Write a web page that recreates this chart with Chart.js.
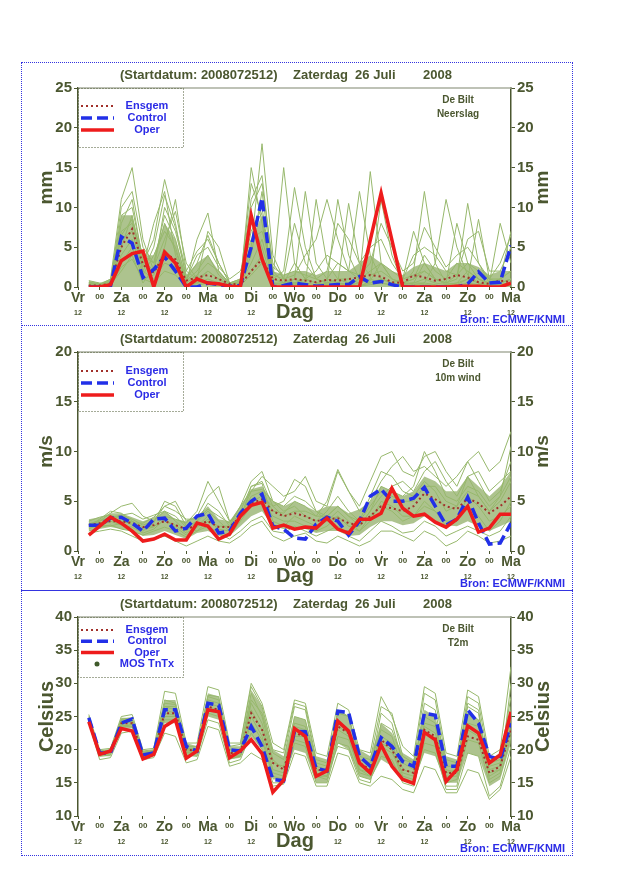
<!DOCTYPE html>
<html>
<head>
<meta charset="utf-8">
<script src="https://cdn.jsdelivr.net/npm/chart.js@4.4.1/dist/chart.umd.min.js"></script>
<style>
  body { margin: 0; background: #fff; width: 640px; height: 880px; position: relative; overflow: hidden; }
  canvas { position: absolute; left: 21px; }
  .frame { position: absolute; left: 21px; width: 552px; border: 1px dotted #3434e0; box-sizing: border-box; pointer-events: none; }
  .sep { position: absolute; left: 21px; width: 552px; height: 0; border-top: 1px dotted #3434e0; }
</style>
</head>
<body>
<canvas id="precip" width="552" height="264" style="top:62px"></canvas>
<canvas id="wind" width="552" height="264" style="top:326px"></canvas>
<canvas id="temp" width="552" height="264" style="top:591px"></canvas>
<div class="frame" style="top:62px;height:794px"></div>
<div class="sep" style="top:325px"></div>
<div class="sep" style="top:590px;border-top-style:solid"></div>
<script>
// forecast hours after the start (Vr 12 UTC)
const hours = [6,12,18,24,30,36,42,48,54,60,66,72,78,84,90,96,102,108,114,120,
               126,132,138,144,150,156,162,168,174,180,186,192,198,204,210,216,222,228,234,240];
const tickHours = [0,12,24,36,48,60,72,84,96,108,120,132,144,156,168,180,192,204,216,228,240];
const dayNames = ["Vr","Za","Zo","Ma","Di","Wo","Do","Vr","Za","Zo","Ma"];

// ---- Neerslag (mm) ----
const precipOper    = [0,0,0.3,3.3,4.2,4.5,0,4.4,3.0,0,1.0,0.5,0.4,0.1,0,9.0,3.5,0,0,0,0,0,0,0,0,0,5.9,11.8,5.9,0,0,0,0,0,0.1,0.1,0.1,0,0,0.5];
const precipControl = [0,0,0.1,6.3,5.5,1.2,2.2,3.8,2.0,0,0,0.5,0.3,0.1,0.2,5.0,11.2,0,0.2,0.5,0.3,0.1,0.2,0.3,0.3,1.3,0.5,0.7,0.3,0,0,0,0,0,0,0.4,1.9,0.5,0.6,5.2];
const precipEnsgem  = [0.2,0.2,0.4,5.0,7.3,2.8,1.8,4.2,3.5,0.8,1.2,1.5,1.0,0.4,0.3,2.0,3.5,1.0,0.8,1.0,0.8,0.6,0.9,0.8,1.0,1.2,1.5,1.3,0.6,0.5,1.5,1.2,0.8,1.0,1.5,1.2,0.6,0.4,0.8,0.6];
const precipCoreLo  = [0,0,0,0,0,0,0,0,0,0,0,0,0,0,0,0,0,0,0,0,0,0,0,0,0,0,0,0,0,0,0,0,0,0,0,0,0,0,0,0];
const precipCoreHi  = [0.8,0.5,1.0,9.0,9.0,4.0,4.0,8.0,6.0,1.5,3.0,4.0,2.0,0.5,1.0,6.0,9.0,2.0,1.5,2.0,2.0,1.5,2.0,2.0,2.0,3.0,4.0,3.0,2.0,1.5,2.5,3.0,2.5,2.0,3.0,3.0,2.5,1.5,2.0,2.0];
const precipMembers = [
  [0.5,0.3,1.0,11.0,15.0,6.0,2.0,4.0,3.0,0.5,0.2,0.5,0.3,0,0.3,5.0,18.0,4.0,1.0,0.5,0.3,0,0.5,1.0,0.5,0,0.8,3.0,1.0,0.5,0.3,0.5,0.3,0,0.2,0.5,0.3,0.2,0.3,0.5],
  [0.2,0,0.5,8.0,11.0,3.0,6.0,13.5,8.0,1.0,0.5,2.0,1.0,0.2,0.5,3.0,6.0,1.0,15.0,3.0,1.0,0.5,0.3,0.5,0.3,0.2,0.5,1.0,0.5,0.3,0.5,3.0,1.0,0.3,0.5,2.0,1.0,0.3,0.5,1.0],
  [0.8,0.5,0.3,5.0,9.0,2.5,8.0,12.0,4.0,0.5,6.0,9.3,2.0,0.5,0.3,15.0,8.0,0.5,0.3,1.0,12.0,3.0,1.0,0.5,0.3,0.5,1.0,0.5,0.3,0.2,2.0,12.0,3.0,0.5,0.3,1.0,0.5,0.2,0.3,0.5],
  [0,0,0.2,3.0,5.0,1.0,1.5,5.0,11.0,2.0,1.0,7.0,5.0,0.5,1.0,11.0,14.0,2.0,0.5,0.3,0.5,11.0,3.0,1.0,0.5,1.0,14.5,3.0,1.0,0.5,1.0,2.0,1.0,0.5,1.0,10.5,3.0,0.5,1.0,2.0],
  [0.3,0.2,0.5,7.0,8.0,4.0,3.0,9.0,6.0,0.8,2.0,4.0,1.5,0.3,0.5,4.0,12.0,1.5,1.0,8.0,3.0,1.0,0.5,11.0,4.0,1.0,0.5,1.0,0.5,0.3,0.5,1.0,0.5,0.3,0.5,1.0,8.5,1.0,0.5,1.0],
  [0.1,0.1,0.3,2.0,4.0,0.5,2.5,6.0,9.5,3.0,1.0,2.0,1.0,0.2,0.3,2.0,4.0,0.5,0.5,3.0,1.0,0.5,1.0,3.0,2.0,12.0,4.0,1.0,0.5,1.0,7.0,3.0,1.0,0.5,8.0,3.0,1.0,0.5,1.0,7.0],
  [0.4,0.3,0.8,6.0,7.0,2.0,1.0,3.0,2.5,1.0,3.0,6.5,3.0,0.5,0.5,7.0,10.0,1.0,0.5,1.0,0.5,0.3,0.5,0.5,10.5,3.0,1.5,2.0,1.0,0.5,1.0,4.0,2.0,1.0,3.0,2.0,1.0,0.5,8.0,3.0],
  [0.2,0.1,0.4,9.0,10.0,3.5,2.0,10.0,7.0,1.5,0.5,1.0,0.5,0.3,0.8,13.0,9.0,1.0,2.0,12.5,5.0,1.0,0.5,1.0,1.0,0.5,1.0,11.0,4.0,0.5,0.5,0.5,3.0,11.0,5.0,1.5,0.5,0.3,0.5,1.0],
  [0.6,0.4,0.6,4.0,6.0,1.5,4.0,7.0,5.0,0.5,1.5,3.0,2.0,0.3,0.5,8.5,5.0,0.5,0.3,0.5,1.0,2.0,4.0,3.0,2.0,1.0,2.0,3.0,2.0,1.0,1.5,2.0,1.0,0.5,1.5,3.0,2.0,1.0,1.0,2.0],
  [0.1,0,0.2,2.5,3.5,1.0,0.5,2.0,1.5,0.2,0.5,0.5,0.2,0,0.2,1.5,3.0,0.3,0.2,0.5,0.3,0.1,0.2,0.3,0.2,0.1,0.3,0.5,0.2,0.1,0.2,0.3,0.2,0.1,0.2,0.3,0.2,0.1,0.2,0.3],
  [0.3,0.2,0.5,10.0,12.0,5.0,3.0,8.0,4.5,1.0,4.0,5.0,2.5,1.0,2.0,6.0,7.0,2.5,1.5,2.0,1.5,1.0,2.0,8.0,6.0,3.0,5.0,6.0,3.0,1.0,4.0,5.0,4.0,2.0,1.5,6.0,7.0,2.0,2.0,5.0],
  [0.5,0.3,0.3,6.5,8.5,2.0,5.0,11.5,7.5,2.0,4.5,6.0,3.0,0.5,1.0,10.0,13.0,3.0,1.0,1.5,4.0,6.0,11.0,6.0,2.0,1.5,3.0,8.0,5.0,2.0,3.0,7.5,5.0,2.5,4.0,5.0,3.0,1.0,3.0,6.5]
];

// ---- 10m wind (m/s) ----
const windOper    = [1.6,2.5,3.4,2.8,2.0,1.0,1.2,1.7,1.1,1.1,2.8,2.5,1.2,1.7,3.5,4.6,4.9,2.3,2.6,2.2,2.4,2.3,3.3,2.2,1.8,3.2,3.2,3.8,6.3,4.3,3.5,3.7,2.9,2.4,3.2,4.5,1.9,2.3,3.7,3.7];
const windControl = [2.6,2.6,3.3,3.4,2.8,2.0,3.2,3.3,2.0,2.3,3.5,3.8,1.8,2.0,3.8,5.0,5.7,2.5,2.2,1.3,1.2,2.7,3.4,3.0,1.6,3.0,5.5,6.2,5.0,5.0,5.3,6.4,4.5,2.6,3.2,5.4,2.8,0.7,0.8,2.8];
const windEnsgem  = [2.6,2.8,3.0,3.0,2.8,2.4,2.6,3.0,2.6,2.2,2.6,3.0,2.4,2.4,3.5,4.8,5.2,4.0,3.5,3.8,3.5,3.0,3.2,3.3,2.8,2.6,3.5,4.5,4.3,4.0,4.5,5.8,5.2,4.5,4.2,5.3,4.8,3.8,4.5,5.5];
const windCoreLo  = [2.0,2.2,2.4,2.2,2.0,1.5,1.6,2.0,1.6,1.2,1.8,2.0,1.5,1.5,2.5,3.5,4.0,2.5,2.2,2.2,2.2,1.8,2.0,2.0,1.5,1.6,2.4,3.0,3.0,2.6,2.8,3.5,3.0,2.6,2.5,3.0,2.5,2.0,2.5,3.0];
const windCoreHi  = [3.2,3.4,3.8,3.8,3.4,3.0,3.4,4.0,3.2,3.0,3.5,4.5,3.2,3.0,4.5,6.2,6.5,5.0,4.5,5.0,4.5,4.0,4.5,4.5,3.8,4.2,5.0,6.5,6.0,5.5,6.0,7.5,7.0,6.0,6.0,7.5,6.5,5.5,6.5,8.0];
const windMembers = [
  [2.5,3.0,3.8,4.5,4.8,3.5,3.0,4.5,5.0,3.0,3.5,5.5,6.5,3.0,3.5,6.0,7.5,6.5,5.5,6.0,7.5,5.0,4.5,8.0,6.0,4.5,7.0,9.5,10.0,8.0,7.5,9.5,10.0,8.0,6.5,9.0,10.0,8.0,9.0,12.0],
  [1.8,2.0,2.2,2.0,1.5,1.0,1.2,1.5,1.0,0.5,1.0,1.5,1.0,0.8,1.5,2.5,3.0,1.5,1.0,1.5,1.8,1.0,0.8,1.5,1.0,0.5,1.0,2.0,2.0,1.5,1.0,2.0,1.5,0.5,1.0,2.0,1.5,0.8,1.0,1.5],
  [3.0,3.4,3.6,3.2,2.6,2.0,2.8,5.0,4.5,2.5,2.0,3.0,2.5,2.5,4.5,7.0,8.0,5.0,4.0,4.5,3.5,3.0,4.0,5.5,4.0,3.0,5.5,8.0,7.5,6.0,5.5,7.0,6.0,4.0,4.5,7.5,5.5,4.0,5.0,7.0],
  [2.2,2.8,3.2,3.6,3.8,3.2,3.6,4.0,3.0,2.0,3.0,4.8,4.0,2.5,3.5,5.0,5.5,4.5,5.0,7.2,6.5,4.0,3.5,4.5,3.5,2.5,4.0,6.5,6.0,5.5,6.5,10.0,8.0,5.5,5.0,6.5,6.0,4.5,5.5,10.5],
  [2.8,2.6,2.5,2.8,3.0,2.4,2.5,3.0,2.6,1.8,2.5,3.5,2.0,1.5,3.0,4.5,5.0,3.5,3.0,3.0,2.5,2.0,2.5,3.5,2.5,2.0,3.5,4.5,4.0,3.0,3.5,5.0,4.0,2.5,3.0,4.5,3.5,2.0,3.0,5.0],
  [2.4,3.2,4.0,3.8,3.0,2.2,2.4,3.5,3.2,2.8,4.0,7.0,5.0,3.0,4.0,6.5,7.0,4.5,3.5,4.0,4.0,3.5,5.0,8.2,6.0,4.0,5.0,7.0,8.5,9.5,8.0,8.5,7.5,6.5,7.5,9.0,7.0,5.0,6.0,9.0],
  [2.0,2.4,2.6,2.2,2.0,1.6,2.0,2.4,2.0,1.4,2.0,2.5,1.8,1.2,2.0,3.0,3.5,2.0,1.8,2.5,2.0,1.5,2.0,2.5,1.5,1.0,2.0,3.0,2.5,1.8,2.0,3.0,2.5,1.5,2.0,2.5,2.0,1.5,2.0,3.5],
  [2.6,3.0,3.4,3.6,3.2,2.6,3.0,4.0,3.5,2.4,3.0,4.0,3.0,2.0,3.5,5.5,6.0,4.0,3.8,5.0,4.5,3.5,3.5,4.5,3.5,3.0,4.5,6.0,5.5,5.0,5.0,6.5,6.5,5.0,4.5,6.0,5.5,4.0,5.5,7.5],
  [2.3,2.5,3.0,2.6,2.4,1.8,2.2,3.2,2.4,1.6,2.4,3.2,2.2,2.0,3.2,6.5,6.8,3.0,2.5,3.5,3.0,2.5,3.0,4.0,3.0,2.0,3.0,5.0,4.5,3.5,3.5,4.5,4.0,3.0,3.0,5.5,4.5,3.0,3.5,4.5],
  [2.7,3.1,3.3,3.0,2.8,2.8,3.4,4.5,4.0,3.2,3.2,4.2,3.5,2.8,4.5,6.0,6.2,5.0,4.5,5.5,5.0,4.0,3.0,3.5,2.5,2.5,4.0,5.5,6.5,7.0,6.0,8.0,9.0,7.0,5.5,7.5,8.0,6.0,7.0,8.0]
];

// ---- T2m (Celsius) ----
const tempOper    = [24.2,19.3,19.8,23.2,22.8,18.6,19.3,23.5,24.5,18.7,19.8,26.0,25.7,18.8,19.8,21.5,19.4,13.6,15.4,23.2,22.0,16.0,16.8,24.3,22.8,18.0,16.5,20.7,17.5,15.5,14.9,22.6,21.5,15.2,17.0,23.6,22.5,18.0,19.2,25.7];
const tempControl = [24.8,19.5,19.5,24.0,24.6,19.2,19.5,26.0,26.0,20.5,19.8,27.0,26.7,20.0,19.8,23.5,20.5,15.5,15.3,22.8,22.7,17.2,16.8,25.8,25.6,19.0,17.5,21.8,20.5,18.2,17.5,25.5,25.2,17.5,17.5,26.0,24.0,19.0,18.5,24.0];
const tempEnsgem  = [24.5,19.5,19.8,24.0,24.0,19.2,19.5,25.5,25.5,20.0,19.8,26.5,26.0,19.5,19.5,25.5,23.0,18.0,17.0,22.5,22.0,17.0,16.8,23.5,22.5,18.0,17.0,21.5,20.0,17.0,16.5,23.0,22.0,16.5,16.5,22.0,21.5,16.5,17.5,23.0];
const tempCoreLo  = [24.0,19.0,19.0,23.2,23.2,18.8,19.0,24.0,24.0,19.0,19.0,25.0,24.5,18.5,18.8,22.0,20.0,15.5,15.5,20.0,19.5,15.0,15.0,21.0,20.0,16.0,15.5,18.5,17.5,15.5,15.0,19.5,19.0,15.0,15.0,19.5,19.0,14.5,15.5,21.0];
const tempCoreHi  = [25.2,20.0,20.0,24.8,24.8,19.8,20.0,27.5,27.5,21.0,20.5,28.5,28.0,20.5,20.5,29.0,26.5,20.0,19.0,25.0,24.5,19.0,18.5,26.0,25.0,20.0,19.0,24.0,22.5,19.5,18.5,26.0,25.0,19.0,18.5,25.5,24.5,18.5,19.5,27.0];
const tempMembers = [
  [25.3,20.0,20.2,25.0,25.3,20.0,20.2,28.8,28.5,21.0,21.0,29.5,29.0,21.0,21.0,30.0,27.0,21.0,20.0,27.5,27.0,19.5,19.0,27.0,26.0,20.0,19.5,28.0,25.0,20.5,19.0,29.5,28.5,19.5,19.0,29.0,28.0,19.0,20.0,32.5],
  [24.0,18.5,18.8,22.5,22.8,18.5,18.8,22.5,22.0,18.0,18.5,23.5,23.0,17.5,18.0,19.5,18.5,14.5,14.8,19.5,19.0,14.5,14.5,19.5,19.0,15.0,14.5,16.0,15.5,14.0,13.5,17.5,17.0,13.5,13.5,17.0,16.5,12.5,14.0,19.0],
  [24.5,19.5,19.8,24.2,24.0,19.5,19.5,26.5,26.0,20.0,20.0,28.0,27.5,20.0,20.0,28.5,25.0,18.5,17.0,21.5,21.0,16.0,15.5,22.0,21.5,17.0,16.0,20.5,19.5,16.5,16.0,24.0,23.5,16.0,16.0,25.5,24.5,17.0,17.5,24.0],
  [24.8,19.8,20.0,24.5,24.5,19.8,20.0,27.5,27.0,20.5,20.5,27.0,26.5,19.5,20.0,26.0,23.0,17.0,16.5,25.0,24.5,17.5,17.0,26.0,25.0,18.5,18.0,23.0,22.0,17.0,16.5,27.0,26.0,17.5,17.5,28.0,27.0,18.0,18.5,28.0],
  [24.2,19.0,19.2,23.5,23.8,19.0,19.2,25.0,25.0,19.5,19.5,25.5,25.0,18.8,19.0,24.0,21.5,16.0,15.5,23.5,23.0,16.0,16.0,23.5,22.5,17.5,17.0,25.5,24.0,18.0,17.0,22.5,21.5,15.0,15.5,21.5,21.0,15.0,16.0,22.0],
  [24.6,19.3,19.6,24.0,24.2,19.2,19.6,26.0,25.5,19.8,19.8,26.5,26.0,19.0,19.2,27.5,25.5,19.5,18.5,26.5,26.0,18.0,17.5,24.0,23.0,17.0,16.5,21.0,20.0,15.5,15.0,20.0,19.5,14.5,14.5,23.0,22.0,16.0,17.0,26.0],
  [24.4,19.6,19.9,23.8,23.5,19.4,19.8,24.5,24.5,19.2,19.0,24.5,24.0,18.0,18.5,22.5,20.0,15.0,15.0,21.0,20.5,15.0,15.0,21.0,20.5,16.0,15.5,19.0,18.5,15.0,14.5,21.0,20.5,14.0,14.0,19.5,19.0,13.0,14.5,20.5],
  [25.0,19.7,19.9,24.6,24.8,19.6,19.9,27.0,26.8,20.2,20.2,28.2,28.0,20.5,20.8,29.5,26.5,20.0,19.5,27.0,26.5,18.5,18.0,25.5,25.0,19.0,18.5,26.5,25.5,19.0,18.0,25.0,24.0,17.0,16.5,24.0,23.5,17.5,18.0,25.0],
  [24.3,19.2,19.4,23.6,23.4,19.0,19.4,25.5,25.2,19.6,19.6,26.0,25.5,18.6,19.0,25.0,22.0,16.5,16.0,22.0,22.0,17.0,16.5,23.0,22.0,16.5,16.0,22.0,21.0,16.0,15.5,23.5,22.5,16.5,17.0,27.0,26.0,16.5,17.0,23.0],
  [24.7,19.4,19.7,24.3,24.4,19.5,19.7,26.5,26.5,20.3,20.0,27.5,27.0,19.5,19.5,27.0,24.0,18.0,17.5,24.0,23.5,16.5,16.0,20.5,20.0,15.5,15.0,24.0,23.0,18.5,18.0,28.5,27.5,18.5,18.0,26.5,25.5,15.5,16.5,30.0]
];

const OLIVE = "#4b5730";
const BLUE_TXT = "#2b2be6";
const FONT = '"Liberation Sans", Arial, Helvetica, sans-serif';
const MEMBER_COLOR = "#97b86c";
const CORE_COLOR = "rgba(142,172,98,0.72)";

const styles = {
  ensgem:  { borderColor: "#a1302a", borderWidth: 2, borderDash: [2, 3] },
  control: { borderColor: "#2230e8", borderWidth: 3.5, borderDash: [11, 5] },
  oper:    { borderColor: "#ee1c1c", borderWidth: 3.5, borderDash: [] }
};

function pts(values) {
  return values.map((v, i) => ({ x: hours[i], y: v }));
}

function decoPlugin(opt) {
  return {
    id: "deco",
    beforeDatasetsDraw(chart) {
      const ctx = chart.ctx, a = chart.chartArea;
      ctx.save();
      ctx.strokeStyle = "#a8ae9e";
      ctx.lineWidth = 1.5;
      ctx.beginPath();
      ctx.moveTo(a.left, a.top);
      ctx.lineTo(a.right, a.top);
      ctx.stroke();
      ctx.restore();
    },
    afterDraw(chart) {
      const ctx = chart.ctx, a = chart.chartArea, xs = chart.scales.x;
      ctx.save();
      ctx.fillStyle = OLIVE;
      ctx.textBaseline = "middle";

      // title
      ctx.font = "bold 13px " + FONT;
      ctx.textAlign = "left";
      ctx.fillText("(Startdatum: 2008072512)", 99, 13);
      ctx.fillText("Zaterdag  26 Juli", 272, 13);
      ctx.fillText("2008", 402, 13);

      // x labels
      tickHours.forEach(h => {
        const x = xs.getPixelForValue(h);
        ctx.textAlign = "center";
        if (h % 24 === 0) {
          ctx.font = "bold 14px " + FONT;
          ctx.fillText(dayNames[h / 24], x, a.bottom + 11);
          if (h !== 120) {
            ctx.font = "bold 7px " + FONT;
            ctx.fillText("12", x, a.bottom + 26);
          }
        } else {
          ctx.font = "bold 8px " + FONT;
          ctx.fillText("00", x, a.bottom + 10);
        }
      });
      ctx.font = "bold 20px " + FONT;
      ctx.textAlign = "center";
      ctx.fillText("Dag", 274, a.bottom + 25);

      ctx.fillStyle = BLUE_TXT;
      ctx.font = "bold 11px " + FONT;
      ctx.textAlign = "left";
      ctx.fillText("Bron: ECMWF/KNMI", 439, a.bottom + 33);

      // axis titles
      ctx.fillStyle = OLIVE;
      ctx.font = "bold " + opt.titleSize + "px " + FONT;
      ctx.textAlign = "center";
      const midY = (a.top + a.bottom) / 2;
      [26, 522].forEach(x => {
        ctx.save();
        ctx.translate(x, midY);
        ctx.rotate(-Math.PI / 2);
        ctx.fillText(opt.unit, 0, 0);
        ctx.restore();
      });

      // station / parameter
      ctx.font = "bold 10px " + FONT;
      ctx.fillText("De Bilt", 437, a.top + 12);
      ctx.fillText(opt.param, 437, a.top + 26);

      // legend box
      const lx = a.left, ly = a.top;
      ctx.strokeStyle = OLIVE;
      ctx.lineWidth = 1;
      ctx.setLineDash([1, 2]);
      ctx.strokeRect(lx + 0.5, ly + 0.5, 105, opt.legendH);
      ctx.setLineDash([]);
      const entries = [
        ["Ensgem", styles.ensgem], ["Control", styles.control], ["Oper", styles.oper]
      ];
      if (opt.mos) entries.push(["MOS TnTx", null]);
      entries.forEach((e, i) => {
        const y = ly + opt.legendY0 + i * opt.legendStep;
        if (e[1]) {
          ctx.strokeStyle = e[1].borderColor;
          ctx.lineWidth = e[1].borderWidth;
          ctx.setLineDash(e[1].borderDash);
          ctx.beginPath();
          ctx.moveTo(lx + 3, y);
          ctx.lineTo(lx + 36, y);
          ctx.stroke();
          ctx.setLineDash([]);
        } else {
          ctx.fillStyle = "#3f5a2a";
          ctx.beginPath();
          ctx.arc(lx + 19, y, 2.5, 0, Math.PI * 2);
          ctx.fill();
        }
        ctx.fillStyle = BLUE_TXT;
        ctx.font = "bold 11px " + FONT;
        ctx.textAlign = "center";
        ctx.fillText(e[0], lx + 69, y);
      });
      ctx.restore();
    }
  };
}

function makeChart(id, o) {
  const datasets = [];
  datasets.push({ data: pts(o.coreLo), borderWidth: 0, pointRadius: 0, fill: false, order: 5 });
  datasets.push({ data: pts(o.coreHi), borderWidth: 0, pointRadius: 0, fill: "-1", backgroundColor: CORE_COLOR, order: 5 });
  o.members.forEach(m => datasets.push({
    data: pts(m), borderColor: MEMBER_COLOR, borderWidth: 1, pointRadius: 0, order: 4
  }));
  datasets.push(Object.assign({ data: pts(o.ensgem), pointRadius: 0, order: 3 }, styles.ensgem));
  datasets.push(Object.assign({ data: pts(o.control), pointRadius: 0, order: 2 }, styles.control));
  datasets.push(Object.assign({ data: pts(o.oper), pointRadius: 0, order: 1 }, styles.oper));

  const yTicks = { stepSize: o.step, color: OLIVE, font: { family: FONT, size: 15, weight: "bold" }, padding: 2 };
  const yGrid = { display: true, drawOnChartArea: false, tickLength: 4, color: OLIVE };

  new Chart(document.getElementById(id), {
    type: "line",
    data: { datasets },
    options: {
      responsive: false,
      animation: false,
      devicePixelRatio: 1,
      layout: { padding: { top: 26, left: 0, right: 0, bottom: 0 } },
      plugins: { legend: { display: false }, tooltip: { enabled: false } },
      elements: { line: { tension: 0 } },
      scales: {
        x: {
          type: "linear", min: 0, max: 240,
          ticks: { display: false, stepSize: 12 },
          grid: { display: true, drawOnChartArea: false, tickLength: 3, color: OLIVE },
          border: { display: false },
          afterFit: s => { s.height = 39; }
        },
        y: {
          position: "left", min: o.min, max: o.max,
          ticks: yTicks, grid: yGrid,
          border: { display: true, color: OLIVE, width: 1.5 },
          afterFit: s => { s.width = 57; }
        },
        y2: {
          position: "right", min: o.min, max: o.max,
          ticks: yTicks, grid: yGrid,
          border: { display: true, color: OLIVE, width: 1.5 },
          afterFit: s => { s.width = 62; }
        }
      }
    },
    plugins: [decoPlugin(o)]
  });
}

makeChart("precip", {
  min: 0, max: 25, step: 5, unit: "mm", titleSize: 19, param: "Neerslag",
  legendH: 59, legendY0: 18, legendStep: 12, mos: false,
  oper: precipOper, control: precipControl, ensgem: precipEnsgem,
  coreLo: precipCoreLo, coreHi: precipCoreHi, members: precipMembers
});
makeChart("wind", {
  min: 0, max: 20, step: 5, unit: "m/s", titleSize: 19, param: "10m wind",
  legendH: 59, legendY0: 19, legendStep: 12, mos: false,
  oper: windOper, control: windControl, ensgem: windEnsgem,
  coreLo: windCoreLo, coreHi: windCoreHi, members: windMembers
});
makeChart("temp", {
  min: 10, max: 40, step: 5, unit: "Celsius", titleSize: 20, param: "T2m",
  legendH: 60, legendY0: 13, legendStep: 11.3, mos: true,
  oper: tempOper, control: tempControl, ensgem: tempEnsgem,
  coreLo: tempCoreLo, coreHi: tempCoreHi, members: tempMembers
});
</script>
</body>
</html>
